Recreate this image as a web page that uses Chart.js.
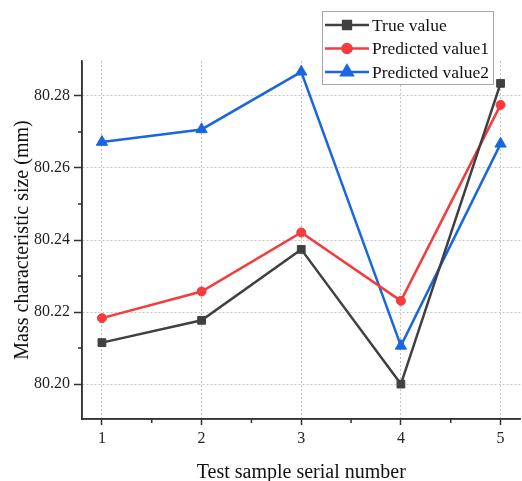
<!DOCTYPE html>
<html>
<head>
<meta charset="utf-8">
<script src="https://cdn.jsdelivr.net/npm/chart.js@4/dist/chart.umd.min.js"></script>
<style>
  html, body { margin: 0; padding: 0; background: #fff; overflow: hidden; }
  #wrap { width: 522px; height: 481px; overflow: hidden; }
</style>
</head>
<body>
<div id="wrap"><canvas id="myChart" width="528" height="485"></canvas></div>
<script>
var samples = [1, 2, 3, 4, 5];
var trueValue = [80.2115, 80.2177, 80.2374, 80.2000, 80.2835];
var predicted1 = [80.2183, 80.2257, 80.2421, 80.2231, 80.2775];
var predicted2 = [80.2672, 80.2707, 80.2867, 80.2106, 80.2667];
var yTicks = [80.20, 80.22, 80.24, 80.26, 80.28];
var xTicks = [1, 2, 3, 4, 5];

function points(values) {
    return values.map(function(v, i){ return {x: samples[i], y: v}; });
}

var serif = "'Liberation Serif', 'DejaVu Serif', serif";

// minor ticks halfway between the major ones + boxed legend inside the plot
var extras = {
    id: 'extras',
    afterDraw: function(chart) {
        var ctx = chart.ctx;
        var xs = chart.scales.x, ys = chart.scales.y;
        ctx.save();
        ctx.setLineDash([]);
        ctx.strokeStyle = '#333';
        ctx.lineWidth = 1.5;
        for (var i = 0; i < yTicks.length - 1; i++) {
            var py = ys.getPixelForValue((yTicks[i] + yTicks[i + 1]) / 2);
            ctx.beginPath(); ctx.moveTo(ys.right - 4, py); ctx.lineTo(ys.right, py); ctx.stroke();
        }
        for (var j = 0; j < xTicks.length - 1; j++) {
            var px = xs.getPixelForValue((xTicks[j] + xTicks[j + 1]) / 2);
            ctx.beginPath(); ctx.moveTo(px, xs.top); ctx.lineTo(px, xs.top + 4); ctx.stroke();
        }
        // solid axis lines
        ctx.beginPath(); ctx.moveTo(ys.right, ys.top); ctx.lineTo(ys.right, ys.bottom); ctx.stroke();
        ctx.beginPath(); ctx.moveTo(xs.left, xs.top); ctx.lineTo(xs.right, xs.top); ctx.stroke();

        var bx = 322, by = 11, bw = 171, bh = 73;
        ctx.fillStyle = '#fff';
        ctx.fillRect(bx, by, bw, bh);
        ctx.strokeStyle = '#a8a8a8';
        ctx.lineWidth = 1;
        ctx.strokeRect(bx + 0.5, by + 0.5, bw, bh);
        ctx.font = '17.5px ' + serif;
        ctx.textBaseline = 'middle';
        chart.data.datasets.forEach(function(ds, k) {
            var ry = 25 + k * 23.5;
            ctx.strokeStyle = ds.borderColor;
            ctx.lineWidth = 2.5;
            ctx.beginPath(); ctx.moveTo(325, ry); ctx.lineTo(369, ry); ctx.stroke();
            ctx.fillStyle = ds.borderColor;
            Chart.helpers.drawPoint(ctx, {pointStyle: ds.pointStyle, radius: ds.pointRadius, rotation: 0, borderWidth: 1}, 347, ry);
            ctx.fillStyle = '#111';
            ctx.fillText(ds.label, 372, ry + 1);
        });
        ctx.restore();
    }
};

var data = {
    datasets: [{
        label: 'True value',
        data: points(trueValue),
        borderColor: '#404040',
        backgroundColor: '#404040',
        pointStyle: 'rect',
        pointRadius: 5.5
    }, {
        label: 'Predicted value1',
        data: points(predicted1),
        borderColor: '#f53b3b',
        backgroundColor: '#f53b3b',
        pointStyle: 'circle',
        pointRadius: 4.5
    }, {
        label: 'Predicted value2',
        data: points(predicted2),
        borderColor: '#1966e0',
        backgroundColor: '#1966e0',
        pointStyle: 'triangle',
        pointRadius: 6.5
    }]
};

var options = {
    responsive: false,
    animation: false,
    devicePixelRatio: 1,
    layout: { padding: { top: 61, right: 1, left: 0, bottom: 0 } },
    elements: { line: { borderWidth: 2.5, tension: 0 }, point: { borderWidth: 1 } },
    plugins: { legend: { display: false }, tooltip: { enabled: false } },
    scales: {
        x: {
            type: 'linear',
            min: 0.8,
            max: 5.2,
            afterBuildTicks: function(scale){ scale.ticks = xTicks.map(function(v){ return {value: v}; }); },
            afterFit: function(scale){ scale.height = 66; },
            grid: { color: '#c4c4c4', tickColor: '#333', tickWidth: 1.5, tickLength: 6, tickBorderDash: [] },
            border: { color: '#333', width: 1.5, dash: [2, 2] },
            ticks: { color: '#222', padding: 4, font: { family: serif, size: 16 }, callback: function(v){ return v; } },
            title: { display: true, text: 'Test sample serial number', color: '#111', padding: { top: 1, bottom: 0 }, font: { family: serif, size: 20 } }
        },
        y: {
            min: 80.1903,
            max: 80.2897,
            afterBuildTicks: function(scale){ scale.ticks = yTicks.map(function(v){ return {value: v}; }); },
            afterFit: function(scale){ scale.width = 82; },
            grid: { color: '#c4c4c4', tickColor: '#333', tickWidth: 1.5, tickLength: 8, tickBorderDash: [] },
            border: { color: '#333', width: 1.5, dash: [2, 2] },
            ticks: { color: '#222', padding: 4, font: { family: serif, size: 16 }, callback: function(v){ return v.toFixed(2); } },
            title: { display: true, text: 'Mass characteristic size (mm)', color: '#111', padding: { top: 11, bottom: 0 }, font: { family: serif, size: 20 } }
        }
    }
};

var ctx = document.getElementById('myChart').getContext('2d');
var myChart = new Chart(ctx, {
    type: 'line',
    data: data,
    options: options,
    plugins: [extras]
});
</script>
</body>
</html>
